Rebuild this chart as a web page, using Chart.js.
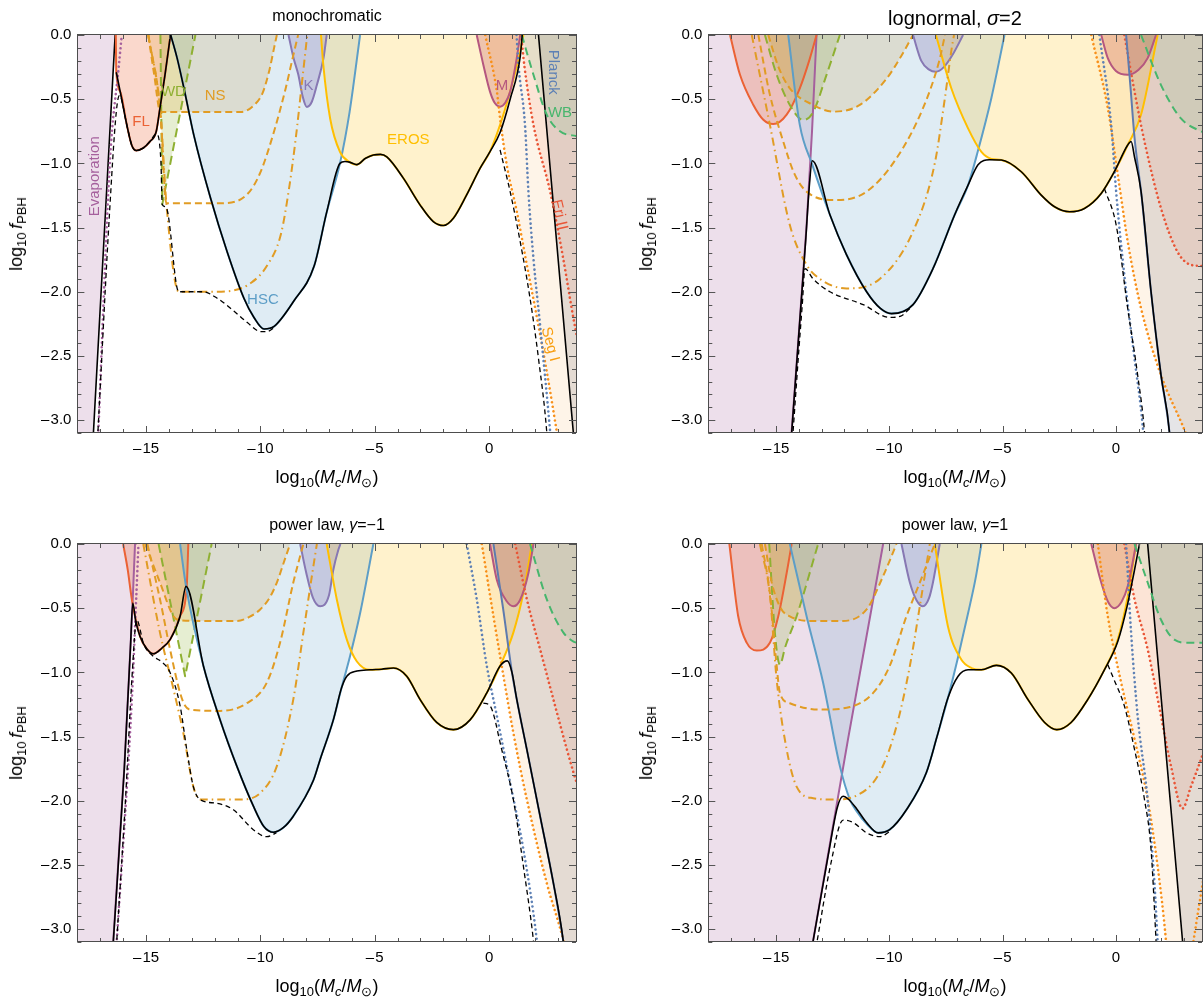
<!DOCTYPE html>
<html><head><meta charset="utf-8">
<script src="https://cdn.jsdelivr.net/npm/chart.js@4.4.1/dist/chart.umd.min.js"></script>
<style>
html,body{margin:0;padding:0;background:#fff;}
body{width:1203px;height:998px;position:relative;overflow:hidden;font-family:"Liberation Sans",Arial,sans-serif;}
canvas{position:absolute;}
.t{position:absolute;transform:translate(-50%,-50%);white-space:nowrap;color:#000;z-index:5;line-height:1;}
.r{transform:translate(-50%,-50%) rotate(-90deg);}
.t sub{font-size:72%;vertical-align:-0.32em;line-height:0;}
</style></head><body>
<canvas id="c0" width="600" height="470" style="left:0;top:0"></canvas>
<canvas id="c1" width="593" height="470" style="left:610px;top:0"></canvas>
<canvas id="c2" width="600" height="470" style="left:0;top:509px"></canvas>
<canvas id="c3" width="593" height="470" style="left:610px;top:509px"></canvas>

<div class="t" style="left:327px;top:16px;font-size:16px">monochromatic</div>
<div class="t" style="left:955px;top:18px;font-size:20px">lognormal, <i>σ</i>=2</div>
<div class="t" style="left:327px;top:525px;font-size:16px">power law, <i>γ</i>=−1</div>
<div class="t" style="left:955px;top:525px;font-size:16px">power law, <i>γ</i>=1</div>

<div class="t" style="left:327px;top:477px;font-size:18px">log<sub>10</sub>(<i>M</i><sub><i>c</i></sub>/<i>M</i><sub>⊙</sub>)</div>
<div class="t" style="left:955px;top:477px;font-size:18px">log<sub>10</sub>(<i>M</i><sub><i>c</i></sub>/<i>M</i><sub>⊙</sub>)</div>
<div class="t" style="left:327px;top:986px;font-size:18px">log<sub>10</sub>(<i>M</i><sub><i>c</i></sub>/<i>M</i><sub>⊙</sub>)</div>
<div class="t" style="left:955px;top:986px;font-size:18px">log<sub>10</sub>(<i>M</i><sub><i>c</i></sub>/<i>M</i><sub>⊙</sub>)</div>

<div class="t r" style="left:16px;top:234px;font-size:18px">log<sub>10</sub>&thinsp;<i>f</i><sub>PBH</sub></div>
<div class="t r" style="left:646px;top:234px;font-size:18px">log<sub>10</sub>&thinsp;<i>f</i><sub>PBH</sub></div>
<div class="t r" style="left:16px;top:743px;font-size:18px">log<sub>10</sub>&thinsp;<i>f</i><sub>PBH</sub></div>
<div class="t r" style="left:646px;top:743px;font-size:18px">log<sub>10</sub>&thinsp;<i>f</i><sub>PBH</sub></div>

<script>
// ---------------- axes ----------------
const X_MIN = -18, X_MAX = 3.8, Y_MIN = -3.1, Y_MAX = 0;
const X_TICKS = [-15, -10, -5, 0];
const X_TICK_LABELS = ['\u2013\u200A15', '\u2013\u200A10', '\u2013\u200A5', '0'];
const Y_TICKS = [0, -0.5, -1, -1.5, -2, -2.5, -3];
const Y_TICK_LABELS = ['0.0', '\u2013\u200A0.5', '\u2013\u200A1.0', '\u2013\u200A1.5', '\u2013\u200A2.0', '\u2013\u200A2.5', '\u2013\u200A3.0'];

// ---------------- monochromatic ----------------
const MONO_EVAP = [[-18.3,-3.6],[-17.4,-3.43],[-17.3,-3.1],[-16.35,0],[-16.3,0.16]];
const MONO_EVAP_DOT = [[-17.1,-3.15],[-16.57,-0.96],[-16.2,-0.26],[-16.06,0]];
const MONO_FL = [[-16.32,0],[-16.3,-0.29],[-16.13,-0.44],[-15.84,-0.70],[-15.62,-0.86],[-15.43,-0.9],[-15.12,-0.88],[-14.83,-0.83],[-14.55,-0.75],[-14.39,-0.57],[-14.17,-0.31],[-13.93,0]];
const MONO_WD = [[-14.37,0],[-14.29,-1.32],[-12.84,0]];
const MONO_NS1 = [[-14.9,0],[-14.65,-0.3],[-14.37,-0.6],[-13.5,-0.6],[-12,-0.6],[-10.86,-0.6],[-10.3,-0.55],[-9.9,-0.45],[-9.6,-0.27],[-9.4,-0.1],[-9.28,0]];
const MONO_NS2 = [[-14.9,0],[-14.37,-0.6],[-14.11,-1.31],[-13,-1.31],[-11.74,-1.31],[-10.57,-1.24],[-10.0,-1.07],[-9.4,-0.75],[-8.9,-0.42],[-8.55,-0.15],[-8.35,0]];
const MONO_NS3 = [[-14.9,0],[-14.37,-0.6],[-14.11,-1.31],[-13.57,-2.0],[-12,-2.0],[-11.18,-1.99],[-10.4,-1.93],[-9.72,-1.8],[-9.1,-1.55],[-8.75,-1.2],[-8.45,-0.8],[-8.2,-0.4],[-7.95,0]];
const MONO_HSC = [[-13.92,0],[-13.64,-0.18],[-13.3,-0.45],[-12.91,-0.78],[-12.18,-1.27],[-11.45,-1.69],[-10.72,-2.05],[-10.28,-2.2],[-9.84,-2.29],[-9.4,-2.27],[-8.53,-2.07],[-7.65,-1.8],[-7.1,-1.38],[-6.52,-1.0],[-6.1,-0.6],[-5.64,0]];
const MONO_K = [[-8.77,0],[-8.55,-0.18],[-8.34,-0.31],[-8.15,-0.48],[-7.97,-0.56],[-7.75,-0.52],[-7.53,-0.39],[-7.24,-0.18],[-7.1,0]];
const MONO_EROS = [[-7.35,0],[-7.25,-0.23],[-6.95,-0.65],[-6.52,-0.91],[-6.1,-0.99],[-5.79,-1.01],[-5.4,-0.96],[-5.06,-0.934],[-4.75,-0.93],[-4.47,-0.95],[-3.75,-1.115],[-3.02,-1.323],[-2.44,-1.453],[-2.0,-1.484],[-1.56,-1.427],[-0.98,-1.245],[-0.39,-1.037],[0.04,-0.908],[0.48,-0.70],[0.92,-0.44],[1.36,-0.13],[1.5,0]];
const MONO_M = [[-0.54,0],[-0.25,-0.233],[0.04,-0.441],[0.25,-0.53],[0.48,-0.558],[0.7,-0.53],[0.92,-0.441],[1.21,-0.18],[1.36,0]];
const MONO_SEG = [[-0.17,0],[0.34,-0.44],[0.48,-0.65],[0.77,-1.01],[1.21,-1.375],[1.65,-1.79],[2.09,-2.2],[2.52,-2.62],[2.96,-3.09],[3.2,-3.35],[3.9,-3.6]];
const MONO_BLUE = [[1.2,0],[1.3,-0.26],[1.57,-0.70],[1.72,-1.22],[1.94,-1.74],[2.23,-2.26],[2.67,-3.09],[2.72,-3.2]];
const MONO_ERI = [[1.4,0],[1.55,-0.25],[1.94,-0.70],[2.67,-1.22],[3.24,-1.74],[3.68,-2.2],[3.9,-2.4]];
const MONO_PLANCK = [[2.16,0],[3.68,-3.09],[3.9,-3.54]];
const MONO_WB = [[1.43,0],[1.94,-0.31],[2.52,-0.62],[3.1,-0.75],[3.9,-0.79]];
const MONO_DASH_A = [[-17.12,-3.15],[-16.6,-1.4],[-16.3,-0.6],[-16.16,-0.47],[-15.84,-0.70],[-15.62,-0.86],[-15.43,-0.9],[-15.12,-0.88],[-14.83,-0.83],[-14.55,-0.77],[-14.35,-0.98],[-14.29,-1.32],[-14.13,-1.34],[-13.57,-2.0],[-12.5,-2.0],[-11.89,-2.05],[-11.16,-2.15],[-10.57,-2.24],[-9.99,-2.31],[-9.7,-2.31],[-9.4,-2.28]];
const MONO_DASH_B = [[0.48,-0.895],[0.92,-1.22],[1.36,-1.61],[1.79,-2.05],[2.16,-2.52],[2.52,-3.09],[2.56,-3.2]];
const MONO_ENV_A = [[-16.3,-0.29],[-16.13,-0.44],[-15.84,-0.70],[-15.62,-0.86],[-15.43,-0.9],[-15.12,-0.88],[-14.83,-0.83],[-14.55,-0.75],[-14.39,-0.57],[-14.17,-0.31],[-13.93,0]];
const MONO_ENV_B = [[-13.92,0],[-13.64,-0.18],[-13.3,-0.45],[-12.91,-0.78],[-12.18,-1.27],[-11.45,-1.69],[-10.72,-2.05],[-10.28,-2.2],[-9.84,-2.29],[-9.4,-2.27],[-8.53,-2.07],[-7.65,-1.8],[-7.1,-1.38],[-6.52,-1.0],[-6.3,-0.985],[-6.1,-0.99],[-5.79,-1.01],[-5.4,-0.96],[-5.06,-0.934],[-4.75,-0.93],[-4.47,-0.95],[-3.75,-1.115],[-3.02,-1.323],[-2.44,-1.453],[-2.0,-1.484],[-1.56,-1.427],[-0.98,-1.245],[-0.39,-1.037],[0.04,-0.908],[0.48,-0.76],[0.92,-0.5],[1.36,-0.17],[1.45,0]];

// ---------------- lognormal ----------------
const LOGN_EVAP = [[-18.3,-3.5],[-14.4,-3.3],[-14.32,-3.09],[-13.95,-2.2],[-13.66,-1.48],[-13.42,-0.75],[-13.22,0],[-13.18,0.15]];
const LOGN_FL = [[-17.04,0],[-16.6,-0.31],[-16.01,-0.545],[-15.57,-0.66],[-15.13,-0.694],[-14.54,-0.62],[-13.96,-0.415],[-13.51,-0.18],[-13.22,0]];
const LOGN_WD = [[-15.5,0],[-14.98,-0.31],[-14.4,-0.545],[-13.81,-0.662],[-13.37,-0.6],[-12.78,-0.31],[-12.19,0]];
const LOGN_NS1 = [[-15.35,0],[-14.9,-0.25],[-14.4,-0.415],[-13.37,-0.545],[-12.49,-0.597],[-11.31,-0.545],[-10.13,-0.34],[-9.5,-0.17],[-8.96,0]];
const LOGN_NS2 = [[-15.79,0],[-15.3,-0.45],[-14.69,-0.83],[-14.2,-1.08],[-13.66,-1.22],[-12.34,-1.286],[-11.01,-1.22],[-9.69,-0.96],[-8.52,-0.57],[-7.8,-0.2],[-7.55,0]];
const LOGN_NS3 = [[-16.08,0],[-15.28,-0.70],[-14.40,-1.48],[-13.66,-1.79],[-13.07,-1.90],[-11.9,-1.974],[-10.43,-1.90],[-8.96,-1.53],[-8.0,-1.0],[-7.56,-0.5],[-7.25,-0.1],[-7.15,0]];
const LOGN_HSC = [[-14.47,0],[-13.96,-0.70],[-13.41,-1.01],[-12.63,-1.40],[-11.90,-1.71],[-11.01,-2.0],[-10.4,-2.13],[-9.91,-2.17],[-8.96,-2.10],[-8.08,-1.82],[-7.12,-1.40],[-6.53,-1.17],[-6.09,-0.90],[-5.50,-0.49],[-4.92,0]];
const LOGN_K = [[-8.96,0],[-8.6,-0.2],[-8.25,-0.27],[-7.95,-0.286],[-7.6,-0.25],[-7.2,-0.15],[-6.75,0]];
const LOGN_EROS = [[-7.95,0],[-7.27,-0.415],[-6.53,-0.727],[-5.94,-0.91],[-5.5,-0.965],[-5.06,-0.974],[-4.18,-1.065],[-3.30,-1.247],[-2.71,-1.338],[-2.05,-1.377],[-1.39,-1.351],[-0.65,-1.234],[-0.07,-1.065],[0.52,-0.857],[1.11,-0.62],[1.84,0]];
const LOGN_M = [[-0.65,0],[-0.36,-0.18],[0.0,-0.28],[0.52,-0.31],[1.0,-0.27],[1.40,-0.18],[1.77,0]];
const LOGN_SEG = [[-1.09,0],[-0.36,-0.57],[0.15,-1.17],[0.52,-1.61],[1.11,-2.13],[1.99,-2.65],[2.94,-3.04],[3.9,-3.45]];
const LOGN_BLUE = [[-0.73,0],[-0.21,-0.70],[0.01,-1.22],[0.37,-1.87],[0.82,-2.52],[1.18,-3.04],[1.25,-3.2]];
const LOGN_ERI = [[0.37,0],[0.82,-0.44],[1.26,-0.83],[1.99,-1.35],[2.72,-1.69],[3.31,-1.79],[3.9,-1.8]];
const LOGN_PLANCK = [[0.45,0],[0.64,-0.4],[0.82,-0.8],[0.95,-1.0],[1.11,-1.22],[1.55,-2.0],[1.99,-2.65],[2.36,-3.09],[2.5,-3.4],[3.9,-3.6]];
const LOGN_WB = [[1.11,0],[1.99,-0.39],[2.87,-0.65],[3.75,-0.75],[3.9,-0.76]];
const LOGN_DASH_A = [[-14.28,-3.15],[-14.0,-2.45],[-13.85,-2.1],[-13.73,-1.82],[-13.37,-1.90],[-12.63,-2.0],[-11.16,-2.10],[-9.99,-2.20],[-9.5,-2.19],[-9.1,-2.13]];
const LOGN_DASH_B = [[-0.51,-1.195],[0.01,-1.48],[0.52,-2.13],[0.96,-2.65],[1.26,-3.09],[1.3,-3.2]];
const LOGN_ENV = [[-14.34,-3.15],[-13.95,-2.2],[-13.7,-1.6],[-13.55,-1.2],[-13.41,-0.98],[-12.63,-1.40],[-11.90,-1.71],[-11.01,-2.0],[-10.4,-2.13],[-9.91,-2.17],[-8.96,-2.10],[-8.08,-1.82],[-7.12,-1.40],[-6.53,-1.17],[-6.09,-1.01],[-5.58,-0.972],[-5.06,-0.974],[-4.18,-1.065],[-3.30,-1.247],[-2.71,-1.338],[-2.05,-1.377],[-1.39,-1.351],[-0.65,-1.234],[-0.07,-1.065],[0.52,-0.857],[0.67,-0.83],[0.82,-0.95],[1.11,-1.22],[1.55,-2.0],[1.99,-2.65],[2.36,-3.09],[2.4,-3.2]];

// ---------------- power law, gamma = -1 ----------------
const PLM1_EVAP = [[-18.3,-3.5],[-16.5,-3.3],[-16.43,-3.09],[-15.95,-1.75],[-15.62,-0.6],[-15.55,-0.3],[-15.48,0],[-15.45,0.15]];
const PLM1_EVAP_DOT = [[-16.3,-3.15],[-15.62,-1.21],[-15.43,-0.43],[-15.33,0]];
const PLM1_FL = [[-16.0,0],[-15.8,-0.2],[-15.62,-0.43],[-15.26,-0.72],[-14.95,-0.82],[-14.68,-0.855],[-14.3,-0.81],[-13.95,-0.745],[-13.51,-0.563],[-13.22,-0.33],[-13.15,0]];
const PLM1_WD = [[-14.45,0],[-13.29,-1.03],[-12.13,0]];
const PLM1_NS1 = [[-15.04,0],[-14.39,-0.30],[-13.80,-0.563],[-13.51,-0.594],[-12,-0.6],[-11.03,-0.6],[-10.5,-0.57],[-10.01,-0.51],[-9.6,-0.42],[-9.28,-0.30],[-8.95,-0.13],[-8.70,0]];
const PLM1_NS2 = [[-14.94,0],[-14.39,-0.43],[-13.95,-0.82],[-13.51,-1.16],[-13.29,-1.26],[-13.07,-1.29],[-11.76,-1.30],[-10.59,-1.24],[-9.72,-1.08],[-9.14,-0.77],[-8.56,-0.30],[-8.12,0]];
const PLM1_NS3 = [[-15.12,0],[-14.39,-0.69],[-13.80,-1.13],[-13.37,-1.47],[-12.93,-1.89],[-12.64,-1.99],[-10.89,-1.99],[-10.01,-1.94],[-9.28,-1.73],[-8.56,-1.21],[-8.12,-0.69],[-7.68,-0.17],[-7.53,0]];
const PLM1_HSC = [[-13.51,0],[-13.25,-0.33],[-12.49,-0.95],[-11.76,-1.37],[-11.03,-1.73],[-10.31,-2.04],[-9.85,-2.2],[-9.43,-2.245],[-9.0,-2.21],[-8.56,-2.12],[-7.68,-1.84],[-7.39,-1.68],[-6.81,-1.37],[-6.45,-1.12],[-6.08,-0.875],[-5.64,-0.54],[-5.06,0]];
const PLM1_K = [[-8.26,0],[-8.0,-0.22],[-7.7,-0.42],[-7.39,-0.485],[-7.0,-0.4],[-6.81,-0.2],[-6.6,-0.05],[-6.5,0]];
const PLM1_EROS = [[-7.10,0],[-6.66,-0.43],[-6.22,-0.745],[-5.78,-0.915],[-5.20,-0.98],[-4.7,-0.975],[-4.18,-0.966],[-3.60,-1.03],[-3.02,-1.21],[-2.29,-1.39],[-1.56,-1.446],[-0.83,-1.37],[-0.10,-1.16],[0.48,-0.95],[1.06,-0.69],[1.50,-0.38],[1.87,0]];
const PLM1_M = [[0.04,0],[0.34,-0.28],[0.77,-0.446],[1.06,-0.485],[1.36,-0.434],[1.72,-0.226],[1.94,0]];
const PLM1_SEG = [[-0.32,0],[0.19,-0.563],[0.63,-1.03],[1.06,-1.47],[1.65,-1.99],[2.52,-2.64],[3.25,-3.09],[3.5,-3.3],[3.9,-3.5]];
const PLM1_BLUE = [[-0.98,0],[-0.54,-0.43],[-0.10,-0.95],[0.34,-1.34],[0.92,-1.86],[1.50,-2.38],[2.09,-3.09],[2.15,-3.2]];
const PLM1_ERI = [[1.14,0],[1.65,-0.43],[2.23,-0.82],[2.81,-1.21],[3.40,-1.60],[3.69,-1.78],[3.9,-1.9]];
const PLM1_WB = [[1.79,0],[2.52,-0.43],[3.25,-0.69],[3.69,-0.76],[3.9,-0.77]];
const PLM1_PLANCK = [[0.19,0],[0.61,-0.5],[1.0,-1.0],[1.21,-1.21],[1.65,-1.60],[2.23,-2.12],[2.81,-2.64],[3.24,-3.09],[3.4,-3.3],[3.9,-3.5]];
const PLM1_DASH_A = [[-16.3,-3.15],[-15.9,-2.0],[-15.6,-1.0],[-15.41,-0.59],[-15.1,-0.78],[-14.68,-0.875],[-14.3,-0.92],[-13.95,-1.0],[-13.51,-1.26],[-13.22,-1.6],[-12.93,-1.89],[-12.64,-1.99],[-11.91,-2.02],[-11.18,-2.07],[-10.31,-2.225],[-9.72,-2.28],[-9.3,-2.25]];
const PLM1_DASH_B = [[-0.25,-1.24],[0.04,-1.26],[0.55,-1.60],[1.06,-1.99],[1.50,-2.51],[1.94,-3.09],[2.0,-3.2]];
const PLM1_ENV = [[-16.45,-3.15],[-15.95,-1.75],[-15.68,-0.8],[-15.58,-0.46],[-15.45,-0.6],[-15.26,-0.72],[-14.95,-0.82],[-14.68,-0.855],[-14.3,-0.81],[-13.95,-0.745],[-13.51,-0.563],[-13.25,-0.33],[-12.49,-0.95],[-11.76,-1.37],[-11.03,-1.73],[-10.31,-2.04],[-9.85,-2.2],[-9.43,-2.245],[-9.0,-2.21],[-8.56,-2.12],[-7.68,-1.84],[-7.39,-1.68],[-6.81,-1.37],[-6.45,-1.12],[-6.22,-1.03],[-5.78,-0.99],[-5.20,-0.98],[-4.7,-0.975],[-4.18,-0.966],[-3.60,-1.03],[-3.02,-1.21],[-2.29,-1.39],[-1.56,-1.446],[-0.83,-1.37],[-0.10,-1.16],[0.48,-0.95],[0.80,-0.91],[1.0,-1.0],[1.21,-1.21],[1.65,-1.60],[2.23,-2.12],[2.81,-2.64],[3.24,-3.09],[3.3,-3.2]];

// ---------------- power law, gamma = 1 ----------------
const PLP1_EVAP = [[-18.3,-3.6],[-13.5,-3.22],[-13.37,-3.09],[-11.83,-1.52],[-10.28,0],[-10.2,0.08]];
const PLP1_FL = [[-17.07,0],[-16.68,-0.563],[-16.30,-0.77],[-15.86,-0.83],[-15.28,-0.77],[-14.91,-0.563],[-14.54,-0.226],[-14.32,0]];
const PLP1_WD = [[-15.31,0],[-15.06,-0.69],[-14.84,-0.94],[-14.6,-0.8],[-14.10,-0.563],[-13.15,0]];
const PLP1_NS1 = [[-15.5,0],[-15.2,-0.3],[-14.8,-0.5],[-14.40,-0.563],[-13.37,-0.60],[-12.19,-0.6],[-11.01,-0.51],[-10.28,-0.25],[-9.69,0]];
const PLP1_NS2 = [[-15.64,0],[-15.28,-0.38],[-14.98,-0.95],[-14.84,-1.16],[-14.40,-1.24],[-13.07,-1.29],[-11.75,-1.27],[-10.72,-1.16],[-9.99,-0.95],[-9.25,-0.563],[-8.66,-0.30],[-8.0,0]];
const PLP1_NS3 = [[-15.72,0],[-15.28,-0.4],[-14.98,-1.06],[-14.54,-1.60],[-14.10,-1.89],[-13.37,-1.98],[-12.49,-1.99],[-11.46,-1.96],[-10.43,-1.78],[-9.69,-1.42],[-9.10,-0.95],[-8.66,-0.485],[-8.22,0]];
const PLP1_HSC = [[-14.40,0],[-13.66,-0.563],[-12.93,-1.08],[-12.19,-1.73],[-11.75,-1.99],[-11.46,-2.08],[-11.01,-2.18],[-10.50,-2.25],[-9.99,-2.225],[-9.25,-2.07],[-8.37,-1.78],[-7.9,-1.5],[-7.42,-1.2],[-6.97,-0.88],[-6.53,-0.54],[-6.2,-0.27],[-5.94,0]];
const PLP1_K = [[-9.47,0],[-9.10,-0.30],[-8.8,-0.44],[-8.52,-0.485],[-8.25,-0.42],[-8.08,-0.30],[-7.78,0]];
const PLP1_EROS = [[-8.0,0],[-7.42,-0.64],[-6.83,-0.90],[-6.38,-0.966],[-5.94,-0.98],[-5.28,-0.945],[-4.62,-1.005],[-3.89,-1.21],[-3.15,-1.39],[-2.61,-1.446],[-1.98,-1.39],[-1.24,-1.21],[-0.51,-0.98],[0.08,-0.745],[0.52,-0.41],[0.89,0]];
const PLP1_M = [[-1.09,0],[-0.65,-0.30],[-0.35,-0.45],[-0.07,-0.50],[0.25,-0.45],[0.52,-0.33],[0.89,0]];
const PLP1_SEG = [[-0.80,0],[-0.36,-0.563],[0.23,-1.08],[0.82,-1.52],[1.40,-1.99],[1.84,-2.51],[2.21,-3.09],[2.3,-3.3],[3.9,-3.5]];
const PLP1_SEG2 = [[3.33,-3.2],[3.55,-2.95],[3.85,-2.62]];
const PLP1_BLUE = [[0.45,0],[0.67,-0.69],[0.96,-1.34],[1.40,-1.99],[1.70,-2.64],[1.84,-3.09],[1.88,-3.2]];
const PLP1_ERI = [[0.37,0],[0.82,-0.43],[1.40,-0.82],[1.99,-1.34],[2.43,-1.73],[2.94,-2.06],[3.31,-1.89],[3.75,-1.68],[3.9,-1.6]];
const PLP1_WB = [[0.82,0],[1.40,-0.30],[1.99,-0.59],[2.58,-0.745],[3.2,-0.77],[3.9,-0.77]];
const PLP1_PLANCK = [[1.40,0],[2.94,-3.09],[3.05,-3.31],[3.9,-3.6]];
const PLP1_DASH_A = [[-13.25,-3.15],[-12.6,-2.5],[-12.05,-2.15],[-11.6,-2.17],[-11.01,-2.25],[-10.43,-2.28],[-9.99,-2.24]];
const PLP1_DASH_B = [[-0.36,-0.94],[-0.1,-1.05],[0.37,-1.26],[0.82,-1.60],[1.26,-1.99],[1.55,-2.38],[1.77,-3.09],[1.8,-3.2]];
const PLP1_ENV = [[-13.43,-3.15],[-12.7,-2.42],[-12.3,-2.05],[-12.05,-1.965],[-11.8,-1.99],[-11.46,-2.06],[-11.01,-2.17],[-10.50,-2.25],[-9.99,-2.225],[-9.25,-2.07],[-8.37,-1.78],[-7.9,-1.5],[-7.42,-1.2],[-6.97,-1.03],[-6.53,-0.98],[-5.94,-0.98],[-5.28,-0.945],[-4.62,-1.005],[-3.89,-1.21],[-3.15,-1.39],[-2.61,-1.446],[-1.98,-1.39],[-1.24,-1.21],[-0.51,-0.98],[0.08,-0.76],[0.5,-0.48],[0.8,-0.22],[1.04,0]];

// ---------------- region labels (monochromatic panel) ----------------
const MONO_LABELS = [
  {t:'Evaporation', x:-17.23, y:-1.10, r:-90, c:'#A5609D'},
  {t:'FL', x:-15.22, y:-0.68, r:0, c:'#EB6235'},
  {t:'WD', x:-13.8, y:-0.44, r:0, c:'#8FB032'},
  {t:'NS', x:-11.98, y:-0.475, r:0, c:'#E19C24'},
  {t:'K', x:-7.9, y:-0.40, r:0, c:'#8778B3'},
  {t:'HSC', x:-9.89, y:-2.06, r:0, c:'#5D9EC7'},
  {t:'EROS', x:-3.53, y:-0.82, r:0, c:'#FFBF00'},
  {t:'M', x:0.56, y:-0.40, r:0, c:'#B5577F'},
  {t:'Planck', x:2.81, y:-0.29, r:90, c:'#5E81B5'},
  {t:'WB', x:3.10, y:-0.61, r:0, c:'#47B66D'},
  {t:'Eri II', x:3.07, y:-1.40, r:77, c:'#E95536'},
  {t:'Seg I', x:2.67, y:-2.41, r:75, c:'#F89F13'}
];

// ---------------- styling ----------------
const FONT = '"Liberation Sans", Arial, sans-serif';
const COL = {evap:'#A5609D', fl:'#EB6235', wd:'#8FB032', ns:'#E19C24', hsc:'#5D9EC7', k:'#8778B3', eros:'#FFBF00', m:'#B5577F', seg:'#F8901A', eri:'#E95536', blue:'#5E81B5', wb:'#47B66D', slate:'#5E7BAE', env:'#000000'};
const FILL = {evap:'rgba(165,96,157,0.2)', fl:'rgba(235,98,53,0.25)', wd:'rgba(143,176,50,0.22)', ns:'rgba(225,156,36,0.2)', hsc:'rgba(93,158,199,0.2)', k:'rgba(135,120,179,0.3)', eros:'rgba(255,191,0,0.2)', m:'rgba(200,90,100,0.3)', seg:'rgba(248,150,30,0.1)', eri:'rgba(233,85,54,0.1)', planck:'rgba(80,80,95,0.15)', wb:'rgba(71,182,109,0.12)'};
const DOT = [0.01, 4.6];

function mk(pts, color, o) {
  o = o || {};
  return {
    data: pts.map(p => ({x: p[0], y: p[1]})),
    borderColor: color,
    borderWidth: o.w || 2,
    borderDash: o.dash || [],
    borderCapStyle: o.dots ? 'round' : 'butt',
    borderJoinStyle: 'round',
    fill: o.fill ? 'end' : false,
    backgroundColor: o.fill || 'rgba(0,0,0,0)',
    pointRadius: 0, pointHoverRadius: 0, pointHitRadius: 0,
    tension: 0,
    cubicInterpolationMode: o.straight ? 'default' : 'monotone'
  };
}
const NSD = [7,4], NSDD = [8,4,1.5,4], WDD = [9,5], WBD = [8,5], ENVD = [5,3.5];

function panelSets(P) {
  const s = [];
  s.push(mk(P.evap, P.evapLine, {fill: FILL.evap, straight: true, w: P.evapLine === COL.env ? 1.6 : 2}));
  s.push(mk(P.fl, COL.fl, {fill: FILL.fl}));
  s.push(mk(P.wd, COL.wd, {fill: FILL.wd, dash: WDD, straight: P.wdStraight}));
  s.push(mk(P.ns1, COL.ns, {fill: FILL.ns, dash: NSD}));
  s.push(mk(P.hsc, COL.hsc, {fill: FILL.hsc}));
  s.push(mk(P.k, COL.k, {fill: FILL.k}));
  s.push(mk(P.eros, COL.eros, {fill: FILL.eros}));
  s.push(mk(P.m, COL.m, {fill: FILL.m}));
  s.push(mk(P.seg, COL.seg, {fill: FILL.seg, dash: DOT, dots: true, w: 2.6}));
  s.push(mk(P.eri, COL.eri, {fill: FILL.eri, dash: DOT, dots: true, w: 2.6}));
  s.push(mk(P.planck, P.planckLine, {fill: FILL.planck, straight: P.planckStraight, w: P.planckLine === COL.env ? 1.6 : 2}));
  s.push(mk(P.wb, COL.wb, {fill: FILL.wb, dash: WBD}));
  s.push(mk(P.ns2, COL.ns, {dash: NSD}));
  s.push(mk(P.ns3, COL.ns, {dash: NSDD}));
  s.push(mk(P.blue, COL.blue, {dash: DOT, dots: true, w: 2.6}));
  (P.extraDots || []).forEach(a => s.push(mk(a.pts, a.c, {dash: DOT, dots: true, w: 2.6})));
  (P.dashed || []).forEach(a => s.push(mk(a, COL.env, {dash: ENVD, w: 1.3})));
  (P.env || []).forEach(a => s.push(mk(a, COL.env, {w: 1.6})));
  s.forEach((d, i) => d.order = -i);
  return s;
}

const PANELS = [
  {id:'c0', yw:77.4, padR:24, labels: MONO_LABELS,
   evap: MONO_EVAP, evapLine: COL.env, fl: MONO_FL, wd: MONO_WD, wdStraight: true, ns1: MONO_NS1, hsc: MONO_HSC, k: MONO_K,
   eros: MONO_EROS, m: MONO_M, seg: MONO_SEG, eri: MONO_ERI, planck: MONO_PLANCK, planckLine: COL.env, planckStraight: true,
   wb: MONO_WB, ns2: MONO_NS2, ns3: MONO_NS3, blue: MONO_BLUE,
   extraDots: [{pts: MONO_EVAP_DOT, c: COL.evap}],
   dashed: [MONO_DASH_A, MONO_DASH_B], env: [MONO_ENV_A, MONO_ENV_B]},
  {id:'c1', yw:98.3, padR:1, labels: [],
   evap: LOGN_EVAP, evapLine: COL.evap, fl: LOGN_FL, wd: LOGN_WD, ns1: LOGN_NS1, hsc: LOGN_HSC, k: LOGN_K,
   eros: LOGN_EROS, m: LOGN_M, seg: LOGN_SEG, eri: LOGN_ERI, planck: LOGN_PLANCK, planckLine: COL.slate,
   wb: LOGN_WB, ns2: LOGN_NS2, ns3: LOGN_NS3, blue: LOGN_BLUE,
   dashed: [LOGN_DASH_A, LOGN_DASH_B], env: [LOGN_ENV]},
  {id:'c2', yw:77.4, padR:24, labels: [],
   evap: PLM1_EVAP, evapLine: COL.evap, fl: PLM1_FL, wd: PLM1_WD, wdStraight: true, ns1: PLM1_NS1, hsc: PLM1_HSC, k: PLM1_K,
   eros: PLM1_EROS, m: PLM1_M, seg: PLM1_SEG, eri: PLM1_ERI, planck: PLM1_PLANCK, planckLine: COL.slate,
   wb: PLM1_WB, ns2: PLM1_NS2, ns3: PLM1_NS3, blue: PLM1_BLUE,
   extraDots: [{pts: PLM1_EVAP_DOT, c: COL.evap}],
   dashed: [PLM1_DASH_A, PLM1_DASH_B], env: [PLM1_ENV]},
  {id:'c3', yw:98.3, padR:1, labels: [],
   evap: PLP1_EVAP, evapLine: COL.evap, fl: PLP1_FL, wd: PLP1_WD, ns1: PLP1_NS1, hsc: PLP1_HSC, k: PLP1_K,
   eros: PLP1_EROS, m: PLP1_M, seg: PLP1_SEG, eri: PLP1_ERI, planck: PLP1_PLANCK, planckLine: COL.env, planckStraight: true,
   wb: PLP1_WB, ns2: PLP1_NS2, ns3: PLP1_NS3, blue: PLP1_BLUE,
   extraDots: [{pts: PLP1_SEG2, c: COL.seg}],
   dashed: [PLP1_DASH_A, PLP1_DASH_B], env: [PLP1_ENV]}
];

const framePlugin = {
  id: 'frameTicks',
  afterDraw(chart) {
    const ctx = chart.ctx, a = chart.chartArea, xs = chart.scales.x, ys = chart.scales.y;
    ctx.save();
    ctx.strokeStyle = '#555';
    ctx.lineWidth = 1;
    const seg = (x1, y1, x2, y2) => { ctx.beginPath(); ctx.moveTo(x1, y1); ctx.lineTo(x2, y2); ctx.stroke(); };
    for (let v = -18; v <= 3; v++) {
      const px = Math.round(xs.getPixelForValue(v)) + 0.5;
      const len = (v % 5 === 0) ? 7 : 4;
      seg(px, a.bottom, px, a.bottom - len);
      seg(px, a.top, px, a.top + len);
    }
    for (let k = 0; k <= 31; k++) {
      const py = Math.round(ys.getPixelForValue(-k / 10)) + 0.5;
      const len = (k % 5 === 0) ? 7 : 4;
      seg(a.left, py, a.left + len, py);
      seg(a.right, py, a.right - len, py);
    }
    ctx.strokeStyle = '#4d4d4d';
    ctx.strokeRect(Math.round(a.left) + 0.5, Math.round(a.top) - 0.5, Math.round(a.right - a.left), Math.round(a.bottom - a.top));
    ctx.restore();
  }
};

function labelPlugin(items) {
  return {
    id: 'regionLabels',
    afterDatasetsDraw(chart) {
      const ctx = chart.ctx, xs = chart.scales.x, ys = chart.scales.y;
      ctx.save();
      ctx.font = '15px ' + FONT;
      ctx.textAlign = 'center';
      ctx.textBaseline = 'middle';
      items.forEach(it => {
        ctx.save();
        ctx.translate(xs.getPixelForValue(it.x), ys.getPixelForValue(it.y));
        ctx.rotate(it.r * Math.PI / 180);
        ctx.fillStyle = it.c;
        ctx.fillText(it.t, 0, 0);
        ctx.restore();
      });
      ctx.restore();
    }
  };
}

Chart.defaults.font.family = FONT;

PANELS.forEach(P => {
  const ctx = document.getElementById(P.id).getContext('2d');
  new Chart(ctx, {
    type: 'line',
    data: { datasets: panelSets(P) },
    options: {
      responsive: false, animation: false, devicePixelRatio: 1, events: [],
      layout: { padding: { top: 35, right: P.padR, left: 0, bottom: 0 } },
      plugins: { legend: {display: false}, tooltip: {enabled: false}, title: {display: false},
                 filler: { propagate: false, drawTime: 'beforeDatasetsDraw' } },
      elements: { line: { capBezierPoints: false }, point: { radius: 0 } },
      scales: {
        x: {
          type: 'linear', min: X_MIN, max: X_MAX,
          grid: {display: false, drawTicks: false}, border: {display: false},
          afterFit: s => { s.height = 37; },
          afterBuildTicks: s => { s.ticks = X_TICKS.map(v => ({value: v})); },
          ticks: { autoSkip: false, maxRotation: 0, padding: 7, color: '#000', font: {size: 15, family: FONT},
                   callback: (v, i) => X_TICK_LABELS[i] }
        },
        y: {
          type: 'linear', min: Y_MIN, max: Y_MAX,
          grid: {display: false, drawTicks: false}, border: {display: false},
          afterFit: s => { s.width = P.yw; },
          afterBuildTicks: s => { s.ticks = Y_TICKS.map(v => ({value: v})); },
          ticks: { autoSkip: false, padding: 6, color: '#000', font: {size: 15, family: FONT},
                   callback: (v, i) => Y_TICK_LABELS[i] }
        }
      }
    },
    plugins: [framePlugin, labelPlugin(P.labels)]
  });
});
</script>
</body></html>
